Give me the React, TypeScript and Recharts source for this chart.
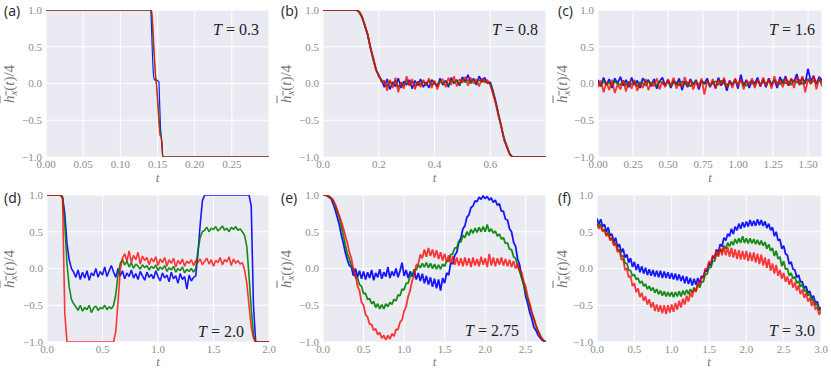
import React from 'react';
import { LineChart, Line, XAxis, YAxis, CartesianGrid } from 'recharts';

// ---------- time grids (categories) ----------
const tA = [0, 0.14, 0.141, 0.142, 0.143, 0.144, 0.145, 0.146, 0.147, 0.148, 0.149, 0.15, 0.151, 0.152, 0.153, 0.154, 0.155, 0.156, 0.157, 0.158, 0.3];
const stepGrid = (step: number, n: number) => Array.from({ length: n }, (_, i) => Math.round(i * step * 10000) / 10000);
const tB = stepGrid(0.01, 81);
const tC = stepGrid(0.02, 81);
const tD = stepGrid(0.02, 101);
const tE = stepGrid(0.025, 111);
const tF = stepGrid(0.025, 121);

// ---------- panel (a) T = 0.3 ----------
const aBlue = [1, 1, 1, 0.75, 0.45, 0.2, 0.08, 0.05, 0.05, 0.04, 0.05, 0.04, 0.03, 0.02, -0.3, -0.6, -0.73, -0.85, -1, -1, -1];
const aGreen = [1, 1, 1, 0.95, 0.8, 0.62, 0.45, 0.3, 0.15, 0.05, -0.05, -0.18, -0.3, -0.45, -0.58, -0.68, -0.72, -0.8, -1, -1, -1];
const aRed = [1, 1, 1, 1, 0.92, 0.75, 0.55, 0.35, 0.15, 0.05, -0.08, -0.25, -0.42, -0.58, -0.7, -0.72, -0.72, -0.85, -1, -1, -1];

// ---------- panel (b) T = 0.8 ----------
const bBlue = [1, 1, 1, 1, 1, 1, 1, 1, 1, 1, 1, 1,
  1.0, 0.97, 0.9, 0.8, 0.66, 0.5, 0.33, 0.2, 0.1, 0.05,
  -0.05, 0.06, -0.08, 0.02, -0.04, 0.07, -0.06, 0.03, -0.02, 0.05,
  -0.07, 0.04, -0.03, 0.06, -0.05, 0.02, -0.06, 0.05, 0.0, -0.04,
  0.07, -0.02, 0.04, -0.05, 0.08, 0.0, 0.05, -0.03, 0.09, 0.02,
  0.12, 0.01, 0.07, -0.02, 0.1, 0.03, 0.08, 0.0,
  0.02, -0.1, -0.25, -0.42, -0.6, -0.75, -0.87, -0.96, -1.0,
  -1, -1, -1, -1, -1, -1, -1, -1, -1, -1, -1, -1];
const bGreen = [1, 1, 1, 1, 1, 1, 1, 1, 1, 1, 1, 1,
  1.0, 0.97, 0.9, 0.79, 0.67, 0.49, 0.34, 0.19, 0.11, 0.03,
  0.02, -0.04, 0.03, -0.02, 0.04, -0.05, 0.01, -0.03, 0.04, -0.02,
  0.03, -0.04, 0.02, -0.01, 0.03, -0.03, 0.04, -0.02, 0.02, -0.03,
  0.04, 0.0, 0.03, -0.02, 0.05, 0.01, 0.04, -0.01, 0.06, 0.02,
  0.05, 0.0, 0.06, 0.01, 0.05, 0.02, 0.04, 0.01,
  0.0, -0.12, -0.27, -0.44, -0.6, -0.76, -0.86, -0.96, -1.0,
  -1, -1, -1, -1, -1, -1, -1, -1, -1, -1, -1, -1];
const bRed = [1, 1, 1, 1, 1, 1, 1, 1, 1, 1, 1, 1,
  1.0, 0.98, 0.92, 0.78, 0.68, 0.48, 0.36, 0.18, 0.12, 0.02,
  0.04, -0.1, 0.05, -0.06, 0.08, -0.12, 0.02, -0.07, 0.1, -0.03,
  0.06, -0.08, 0.03, -0.05, 0.05, -0.02, 0.07, -0.06, 0.04, -0.08,
  0.02, 0.06, -0.05, 0.08, -0.02, 0.1, -0.04, 0.06, 0.01, 0.09,
  -0.03, 0.08, 0.0, 0.06, -0.04, 0.07, 0.01, 0.05,
  -0.02, -0.15, -0.28, -0.45, -0.58, -0.78, -0.85, -0.97, -1.0,
  -1, -1, -1, -1, -1, -1, -1, -1, -1, -1, -1, -1];

// ---------- panel (c) T = 1.6 ----------
const cBlue = [0.05, -0.04, 0.08, -0.02, 0.06, -0.06, 0.07, 0.0, 0.09, -0.03,
  0.05, -0.05, 0.08, -0.02, 0.04, -0.06, 0.07, 0.01, 0.05, -0.04,
  0.06, -0.07, 0.03, 0.08, -0.03, 0.05, -0.06, 0.04, -0.02, 0.07,
  -0.09, 0.03, -0.05, 0.06, -0.02, 0.05, -0.08, 0.04, 0.0, 0.07,
  -0.05, 0.03, -0.06, 0.08, -0.03, 0.05, -0.1, 0.04, -0.02, 0.06,
  -0.07, 0.12, -0.03, 0.05, -0.06, 0.04, 0.0, 0.08, -0.04, 0.06,
  -0.05, 0.07, -0.02, 0.05, -0.06, 0.09, 0.0, 0.1, -0.03, 0.06,
  0.02, 0.13, -0.02, 0.08, 0.0, 0.2, 0.03, 0.1, -0.01, 0.09,
  0.04];
const cGreen = [0.0, -0.03, 0.03, -0.02, 0.02, -0.04, 0.03, 0.0, -0.02, 0.04,
  -0.03, 0.02, -0.01, 0.03, -0.04, 0.02, 0.0, -0.03, 0.03, -0.01,
  0.02, -0.03, 0.04, 0.0, -0.02, 0.03, -0.04, 0.01, 0.02, -0.03,
  0.03, -0.01, 0.02, -0.04, 0.0, 0.03, -0.02, 0.04, -0.01, 0.02,
  -0.03, 0.01, 0.03, -0.02, 0.04, 0.0, -0.03, 0.02, -0.01, 0.03,
  -0.02, 0.04, 0.0, -0.03, 0.02, 0.01, -0.02, 0.04, -0.01, 0.02,
  0.0, 0.03, -0.02, 0.04, 0.01, -0.01, 0.05, 0.0, 0.03, -0.02,
  0.04, 0.01, 0.05, -0.01, 0.03, 0.06, 0.0, 0.04, 0.02, 0.05,
  0.01];
const cRed = [-0.05, 0.04, -0.12, 0.02, -0.09, 0.05, -0.13, -0.01, -0.08, 0.04,
  -0.11, 0.03, -0.07, 0.05, -0.1, 0.0, -0.06, 0.06, -0.09, 0.02,
  -0.04, 0.07, -0.08, 0.03, -0.05, 0.06, -0.03, 0.08, -0.07, 0.02,
  -0.05, 0.09, -0.04, 0.05, -0.08, 0.03, -0.06, 0.07, -0.15, 0.04,
  -0.04, 0.06, -0.07, 0.05, -0.02, 0.08, -0.05, 0.03, -0.06, 0.07,
  -0.03, 0.06, -0.08, 0.04, -0.02, 0.07, -0.06, 0.05, -0.04, 0.08,
  -0.03, 0.06, -0.07, 0.1, -0.02, 0.05, -0.05, 0.08, -0.03, 0.07,
  -0.06, 0.09, -0.02, 0.1, -0.12, 0.06, -0.01, 0.11, -0.08, 0.07,
  -0.04];

// ---------- panel (d) T = 2.0 ----------
const dBlue = [1, 1, 1, 1, 1, 1, 1,
  0.97, 0.75, 0.34, 0.12, 0.0, -0.05,
  -0.12, -0.02, -0.15, -0.05, -0.13, -0.03, -0.16, -0.06, -0.1, 0.0, -0.12, -0.04, -0.09, 0.02, -0.11, -0.03, 0.04,
  -0.05, -0.12, 0.0, -0.1, -0.03, -0.14, -0.06, -0.11, -0.02, -0.13,
  -0.07, -0.15, -0.04, -0.1, -0.16, -0.05, -0.12, -0.08, -0.14, -0.03,
  -0.11, -0.17, -0.06, -0.13, -0.09, -0.18, -0.05, -0.14, -0.1, -0.2,
  -0.07, -0.15, -0.11, -0.28, -0.09, -0.17, -0.12,
  -0.1, 0.2, 0.6, 0.92,
  1, 1, 1, 1, 1, 1, 1, 1, 1, 1, 1, 1, 1, 1, 1, 1, 1, 1, 1, 1, 1,
  0.85, -0.5,
  -1, -1, -1, -1, -1, -1, -1];
const dGreen = [1, 1, 1, 1, 1, 1, 1,
  0.98, 0.6, 0.07, -0.25, -0.42, -0.48,
  -0.52, -0.57, -0.5, -0.58, -0.53, -0.56, -0.5, -0.6, -0.54, -0.51, -0.57, -0.53, -0.55, -0.5, -0.56, -0.52, -0.55,
  -0.5, -0.35, -0.08, 0.07, 0.12,
  0.05, 0.1, 0.02, 0.08, 0.0, 0.06, 0.03, -0.01, 0.05, 0.01,
  0.04, -0.02, 0.03, 0.0, 0.05, -0.03, 0.02, -0.01, 0.04, -0.04,
  0.01, -0.02, 0.03, -0.05, 0.0, -0.03, 0.02, -0.06, -0.01, -0.04,
  0.0, -0.05,
  0.0, 0.25, 0.42, 0.5,
  0.52, 0.56, 0.5, 0.55, 0.53, 0.57, 0.51, 0.54, 0.58, 0.52, 0.55, 0.5, 0.56, 0.53, 0.57, 0.52, 0.54,
  0.5, 0.45, 0.3, -0.1, -0.55, -0.9,
  -1, -1, -1, -1, -1, -1, -1];
const dRed = [1, 1, 1, 1, 1, 1, 1,
  0.95, -0.6,
  -1, -1, -1, -1, -1, -1, -1, -1, -1, -1, -1, -1, -1, -1, -1, -1, -1, -1, -1, -1, -1,
  -1, -0.85, -0.45, -0.02, 0.14,
  0.2, 0.1, 0.24, 0.08, 0.18, 0.12, 0.22, 0.06, 0.17, 0.11,
  0.15, 0.05, 0.14, 0.09, 0.16, 0.04, 0.13, 0.08, 0.15, 0.03,
  0.12, 0.07, 0.14, 0.02, 0.11, 0.06, 0.13, 0.03, 0.1, 0.07,
  0.12, 0.04, 0.11, 0.08, 0.13, 0.05, 0.1, 0.14, 0.06, 0.12,
  0.03, 0.11, 0.08, 0.15, 0.05, 0.12, 0.09, 0.16, 0.04, 0.13,
  0.07, 0.11, 0.06,
  0.08, -0.02, -0.2, -0.5, -0.8, -0.95,
  -1, -1, -1, -1, -1, -1, -1];

// ---------- panel (e) T = 2.75 ----------
const eBlue = [1.0, 1.0, 0.99, 0.97, 0.95, 0.88, 0.8, 0.7, 0.6, 0.46,
  0.35, 0.22, 0.12, 0.04, 0.02, -0.1, 0.0, -0.12, -0.03, -0.14,
  -0.04, -0.15, -0.05, -0.13, -0.02, -0.16, -0.06, -0.12, -0.01, -0.14,
  -0.05, -0.11, 0.02, -0.13, -0.04, -0.1, 0.0, -0.12, -0.03, 0.08,
  -0.1, -0.02, -0.13, -0.04, -0.11, -0.03, -0.15, -0.06, -0.17, -0.07,
  -0.2, -0.1, -0.22, -0.12, -0.25, -0.14, -0.27, -0.15, -0.3, -0.13,
  -0.2, -0.06, -0.09, 0.08, 0.06, 0.18, 0.22, 0.36, 0.41, 0.54,
  0.58, 0.7, 0.73, 0.83, 0.85, 0.92, 0.91, 0.97, 0.94, 0.99,
  0.95, 0.98, 0.93, 0.96, 0.9, 0.93, 0.86, 0.88, 0.78, 0.78,
  0.67, 0.66, 0.54, 0.5, 0.36, 0.3, 0.13, 0.05, -0.12, -0.22,
  -0.38, -0.48, -0.6, -0.68, -0.8, -0.84, -0.9, -0.94, -0.97, -0.99,
  -1.0];
const eGreen = [1.0, 1.0, 0.99, 0.98, 0.96, 0.92, 0.85, 0.78, 0.7, 0.58,
  0.45, 0.32, 0.2, 0.13, 0.04, -0.01, -0.12, -0.13, -0.22, -0.24,
  -0.34, -0.34, -0.42, -0.41, -0.48, -0.45, -0.53, -0.48, -0.55, -0.49,
  -0.55, -0.48, -0.52, -0.46, -0.49, -0.42, -0.44, -0.36, -0.37, -0.28,
  -0.29, -0.2, -0.2, -0.1, -0.1, -0.01, -0.02, 0.05, 0.01, 0.07,
  0.02, 0.08, 0.01, 0.07, 0.0, 0.06, -0.01, 0.05, -0.01, 0.06,
  0.03, 0.1, 0.1, 0.19, 0.2, 0.28, 0.28, 0.37, 0.36, 0.45,
  0.42, 0.5, 0.45, 0.53, 0.48, 0.55, 0.49, 0.56, 0.5, 0.57,
  0.5, 0.6, 0.5, 0.54, 0.48, 0.51, 0.44, 0.47, 0.4, 0.42,
  0.34, 0.35, 0.26, 0.26, 0.16, 0.14, 0.04, -0.04, -0.13, -0.21,
  -0.32, -0.42, -0.5, -0.6, -0.68, -0.77, -0.84, -0.9, -0.95, -0.98,
  -1.0];
const eRed = [1.0, 1.0, 0.99, 0.98, 0.96, 0.93, 0.88, 0.8, 0.72, 0.64,
  0.55, 0.45, 0.35, 0.22, 0.14, -0.02, -0.08, -0.24, -0.3, -0.46,
  -0.5, -0.63, -0.66, -0.76, -0.76, -0.84, -0.82, -0.9, -0.87, -0.95,
  -0.91, -0.97, -0.91, -0.96, -0.89, -0.92, -0.83, -0.83, -0.73, -0.7,
  -0.58, -0.52, -0.38, -0.3, -0.16, -0.1, 0.05, 0.06, 0.19, 0.14,
  0.26, 0.16, 0.28, 0.17, 0.26, 0.15, 0.25, 0.13, 0.22, 0.11,
  0.2, 0.09, 0.18, 0.07, 0.17, 0.05, 0.15, 0.04, 0.14, 0.03,
  0.15, 0.04, 0.14, 0.02, 0.15, 0.04, 0.13, 0.03, 0.16, 0.05,
  0.14, 0.02, 0.2, 0.04, 0.15, 0.03, 0.14, 0.05, 0.15, 0.04,
  0.13, 0.03, 0.12, 0.02, 0.1, 0.0, 0.06, -0.03, -0.05, -0.17,
  -0.25, -0.38, -0.48, -0.6, -0.68, -0.78, -0.85, -0.92, -0.96, -0.99,
  -1.0];

// ---------- panel (f) T = 3.0 ----------
const fBlue = [0.68, 0.6, 0.67, 0.57, 0.6, 0.5, 0.56, 0.45, 0.47, 0.36,
  0.42, 0.29, 0.33, 0.22, 0.27, 0.15, 0.19, 0.08, 0.14, 0.02,
  0.09, -0.02, 0.06, -0.05, 0.03, -0.07, 0.01, -0.09, -0.01, -0.1,
  -0.02, -0.11, -0.03, -0.12, -0.03, -0.13, -0.04, -0.13, -0.05, -0.14,
  -0.06, -0.15, -0.07, -0.16, -0.08, -0.17, -0.1, -0.2, -0.11, -0.21,
  -0.13, -0.23, -0.14, -0.22, -0.13, -0.2, -0.1, -0.12, -0.02, -0.04,
  0.07, 0.04, 0.16, 0.14, 0.26, 0.22, 0.33, 0.3, 0.42, 0.38,
  0.47, 0.44, 0.54, 0.47, 0.57, 0.52, 0.61, 0.54, 0.63, 0.56,
  0.64, 0.57, 0.66, 0.58, 0.65, 0.58, 0.67, 0.59, 0.66, 0.58,
  0.64, 0.55, 0.61, 0.52, 0.56, 0.44, 0.5, 0.38, 0.4, 0.27,
  0.31, 0.2, 0.18, 0.06, 0.09, -0.01, -0.02, -0.12, -0.09, -0.18,
  -0.18, -0.27, -0.24, -0.33, -0.31, -0.41, -0.37, -0.47, -0.45, -0.55,
  -0.53];
const fGreen = [0.62, 0.57, 0.6, 0.52, 0.53, 0.45, 0.5, 0.4, 0.41, 0.33,
  0.35, 0.25, 0.26, 0.17, 0.17, 0.07, 0.07, -0.02, -0.03, -0.1,
  -0.08, -0.15, -0.13, -0.2, -0.17, -0.24, -0.21, -0.28, -0.24, -0.3,
  -0.26, -0.33, -0.28, -0.35, -0.3, -0.37, -0.31, -0.38, -0.32, -0.38,
  -0.32, -0.39, -0.32, -0.38, -0.31, -0.38, -0.3, -0.36, -0.29, -0.35,
  -0.28, -0.33, -0.26, -0.31, -0.21, -0.26, -0.18, -0.18, -0.08, -0.08,
  0.02, 0.01, 0.1, 0.1, 0.2, 0.18, 0.26, 0.23, 0.31, 0.27,
  0.35, 0.3, 0.37, 0.32, 0.4, 0.34, 0.41, 0.35, 0.44, 0.35,
  0.41, 0.34, 0.41, 0.34, 0.4, 0.33, 0.39, 0.32, 0.38, 0.31,
  0.36, 0.27, 0.33, 0.24, 0.28, 0.17, 0.24, 0.13, 0.16, 0.03,
  0.1, -0.01, 0.0, -0.1, -0.06, -0.14, -0.11, -0.2, -0.17, -0.25,
  -0.21, -0.31, -0.29, -0.37, -0.34, -0.44, -0.42, -0.5, -0.48, -0.57,
  -0.56];
const fRed = [0.6, 0.54, 0.58, 0.5, 0.53, 0.44, 0.48, 0.38, 0.42, 0.31,
  0.35, 0.22, 0.26, 0.12, 0.13, -0.02, 0.0, -0.12, -0.1, -0.24,
  -0.2, -0.32, -0.27, -0.39, -0.33, -0.44, -0.38, -0.49, -0.42, -0.53,
  -0.46, -0.58, -0.49, -0.59, -0.5, -0.61, -0.5, -0.62, -0.5, -0.6,
  -0.49, -0.59, -0.47, -0.56, -0.44, -0.53, -0.41, -0.49, -0.37, -0.45,
  -0.33, -0.39, -0.27, -0.32, -0.19, -0.23, -0.12, -0.13, 0.0, -0.01,
  0.1, 0.07, 0.18, 0.13, 0.25, 0.16, 0.28, 0.18, 0.3, 0.18,
  0.29, 0.16, 0.28, 0.15, 0.26, 0.13, 0.25, 0.12, 0.24, 0.12,
  0.24, 0.1, 0.22, 0.1, 0.22, 0.08, 0.2, 0.06, 0.19, 0.04,
  0.15, 0.01, 0.13, -0.03, 0.07, -0.07, 0.05, -0.1, -0.02, -0.14,
  -0.06, -0.18, -0.11, -0.22, -0.14, -0.26, -0.19, -0.3, -0.23, -0.35,
  -0.29, -0.4, -0.33, -0.45, -0.4, -0.51, -0.44, -0.56, -0.52, -0.63,
  -0.58];

// ---------- ticks ----------
const yTicks = [-1, -0.5, 0, 0.5, 1];
const xTicksA = [0, 0.05, 0.1, 0.15, 0.2, 0.25];
const xTicksB = [0, 0.2, 0.4, 0.6];
const xTicksC = [0, 0.25, 0.5, 0.75, 1, 1.25, 1.5];
const xTicksD = [0, 0.5, 1, 1.5, 2];
const xTicksE = [0, 0.5, 1, 1.5, 2, 2.5];
const xTicksF = [0, 0.5, 1, 1.5, 2, 2.5, 3];
const panelLabels = ['(a)', '(b)', '(c)', '(d)', '(e)', '(f)'];
const tempLabels = ['0.3', '0.8', '1.6', '2.0', '2.75', '3.0'];

const BLUE = '#0000ff';
const GREEN = '#008000';
const RED = '#ff0000';
const BG = '#EAEAF2';
const TICK = '#8c8c8c';
const SERIF = '"Liberation Serif", "DejaVu Serif", serif';
const SANS = '"Open Sans", "DejaVu Sans", sans-serif';

const fmt = (dec: number) => (v: number) => {
  const s = Math.abs(v).toFixed(dec);
  return v < 0 ? '\u2212' + s : s;
};

type PanelDef = {
  col: number; row: number;
  t: number[]; blue: number[]; green: number[]; red: number[];
  domain: [number, number]; ticks: number[]; dec: number;
  margin: { top: number; right: number; left: number; bottom: number };
  annX: number; annY: number; sw: number;
  plotL: number; plotR: number; plotT: number; plotB: number;
};

const panels: PanelDef[] = [
  { col: 0, row: 0, t: tA, blue: aBlue, green: aGreen, red: aRed, domain: [0, 0.3], ticks: xTicksA, dec: 2, sw: 1.2,
    margin: { top: 10, right: 8, left: 6, bottom: 10 }, annX: 213, annY: 35, plotL: 46, plotR: 269, plotT: 10, plotB: 157 },
  { col: 1, row: 0, t: tB, blue: bBlue, green: bGreen, red: bRed, domain: [0, 0.8], ticks: xTicksB, dec: 1, sw: 1.7,
    margin: { top: 10, right: 8, left: 6, bottom: 10 }, annX: 492, annY: 35, plotL: 323, plotR: 546, plotT: 10, plotB: 157 },
  { col: 2, row: 0, t: tC, blue: cBlue, green: cGreen, red: cRed, domain: [0, 1.6], ticks: xTicksC, dec: 2, sw: 1.8,
    margin: { top: 10, right: 9, left: 4, bottom: 10 }, annX: 769, annY: 35, plotL: 598, plotR: 822, plotT: 10, plotB: 157 },
  { col: 0, row: 1, t: tD, blue: dBlue, green: dGreen, red: dRed, domain: [0, 2], ticks: xTicksD, dec: 1, sw: 1.6,
    margin: { top: 8, right: 8, left: 7, bottom: 12 }, annX: 198, annY: 337, plotL: 47, plotR: 269, plotT: 195, plotB: 342 },
  { col: 1, row: 1, t: tE, blue: eBlue, green: eGreen, red: eRed, domain: [0, 2.75], ticks: xTicksE, dec: 1, sw: 1.8,
    margin: { top: 8, right: 8, left: 6, bottom: 12 }, annX: 465, annY: 336, plotL: 323, plotR: 546, plotT: 195, plotB: 342 },
  { col: 2, row: 1, t: tF, blue: fBlue, green: fGreen, red: fRed, domain: [0, 3], ticks: xTicksF, dec: 1, sw: 1.8,
    margin: { top: 8, right: 10, left: 3, bottom: 12 }, annX: 769, annY: 336, plotL: 597, plotR: 821, plotT: 195, plotB: 342 },
];

const PW = 277;
const PH = 187;

function Panel({ p }: { p: PanelDef }) {
  const rows = p.t.map((t, i) => ({ t, b: p.blue[i], g: p.green[i], r: p.red[i] }));
  const tickStyle = { fill: TICK, fontSize: 11, fontFamily: SERIF };
  return (
    <div style={{ position: 'absolute', left: p.col * PW, top: p.row * PH, width: PW, height: PH }}>
      <LineChart width={PW} height={PH} data={rows} margin={p.margin}>
        <CartesianGrid stroke="#ffffff" strokeWidth={1} fill={BG} fillOpacity={1} />
        <XAxis dataKey="t" type="number" domain={p.domain} ticks={p.ticks} interval={0} allowDataOverflow
          axisLine={false} tickLine={false} tickSize={0} tickMargin={3} height={20}
          tickFormatter={fmt(p.dec)} tick={tickStyle} />
        <YAxis type="number" domain={[-1, 1]} ticks={yTicks} interval={0} allowDataOverflow
          axisLine={false} tickLine={false} tickSize={0} tickMargin={4} width={40}
          tickFormatter={fmt(1)} tick={tickStyle} />
        <Line type="linear" dataKey="b" stroke={BLUE} strokeOpacity={0.9} strokeWidth={p.sw} strokeLinejoin="bevel" dot={false} isAnimationActive={false} />
        <Line type="linear" dataKey="g" stroke={GREEN} strokeOpacity={0.9} strokeWidth={p.sw} strokeLinejoin="bevel" dot={false} isAnimationActive={false} />
        <Line type="linear" dataKey="r" stroke={RED} strokeOpacity={0.78} strokeWidth={p.sw} strokeLinejoin="bevel" dot={false} isAnimationActive={false} />
      </LineChart>
    </div>
  );
}

export default function App() {
  return (
    <div style={{ position: 'absolute', left: 0, top: 0, width: 831, height: 374, background: '#ffffff', overflow: 'hidden' }}>
      {panels.map((p, i) => <Panel key={i} p={p} />)}
      {panels.map((p, i) => (
        <div key={'yl' + i} style={{
          position: 'absolute', left: p.col * PW + 9 - p.col * 0.5, top: (p.plotT + p.plotB) / 2,
          transform: 'translate(-50%, -50%) rotate(-90deg)', fontFamily: SERIF, fontSize: 15,
          color: '#777', whiteSpace: 'nowrap', lineHeight: 1,
        }}>
          <span style={{ textDecoration: 'overline', fontStyle: 'italic' }}>h<span style={{ fontSize: 11, position: 'relative', top: 3 }}>x</span></span>(<i>t</i>)/4
        </div>
      ))}
      <svg width={831} height={374} style={{ position: 'absolute', left: 0, top: 0, pointerEvents: 'none' }}>
        {panels.map((p, i) => (
          <g key={'t' + i}>
            <text x={p.col * PW + 4} y={p.row * PH + 16} fontFamily={SANS} fontSize={14} fill="#222">{panelLabels[i]}</text>
            <text x={p.annX} y={p.annY} fontFamily={SERIF} fontSize={16} fill="#222">
              <tspan fontStyle="italic">T</tspan> = {tempLabels[i]}
            </text>
            <text x={(p.plotL + p.plotR) / 2} y={p.row === 0 ? 182 : 366} textAnchor="middle" fontFamily={SERIF}
              fontStyle="italic" fontSize={13} fill="#777">t</text>
          </g>
        ))}
      </svg>
    </div>
  );
}
